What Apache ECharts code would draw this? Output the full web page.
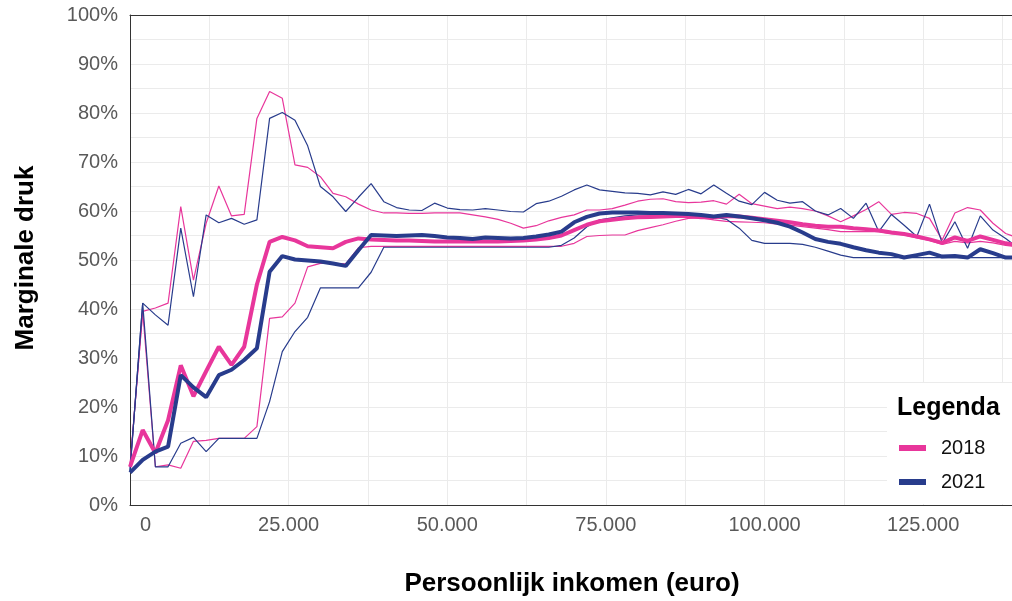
<!DOCTYPE html>
<html><head><meta charset="utf-8">
<script src="https://cdn.jsdelivr.net/npm/echarts@6/dist/echarts.min.js"></script>
<style>html,body{margin:0;padding:0;background:#fff}#c{width:1012px;height:601px}</style>
</head><body><div id="c"></div>
<script>
// Persoonlijk inkomen (euro)
const inkomen = [0,2000,4000,6000,8000,10000,12000,14000,16000,18000,20000,22000,24000,26000,28000,30000,32000,34000,36000,38000,40000,42000,44000,46000,48000,50000,52000,54000,56000,58000,60000,62000,64000,66000,68000,70000,72000,74000,76000,78000,80000,82000,84000,86000,88000,90000,92000,94000,96000,98000,100000,102000,104000,106000,108000,110000,112000,114000,116000,118000,120000,122000,124000,126000,128000,130000,132000,134000,136000,138000,140000];

// Marginale druk (%)
const mediaan2018 = [7.8,15.3,10.6,17.3,28.5,22.2,27.3,32.3,28.6,32.3,45.0,53.7,54.7,54.0,52.8,52.6,52.4,53.7,54.4,54.2,54.1,54.0,54.0,53.9,53.8,53.8,53.8,53.8,53.8,53.8,53.9,54.0,54.2,54.5,55.0,56.1,57.2,57.9,58.2,58.5,58.7,58.8,58.9,59.0,59.0,58.7,58.7,59.0,58.9,58.6,58.3,58.0,57.7,57.3,57.0,56.8,56.8,56.5,56.3,56.0,55.6,55.3,54.8,54.2,53.5,54.6,53.9,54.8,54.1,53.4,53.0];
const boven2018 = [8.0,39.5,40.2,41.2,60.9,45.9,57.5,65.1,59.0,59.3,78.9,84.4,83.0,69.4,68.9,67.0,63.6,62.9,61.4,60.2,59.6,59.6,59.5,59.5,59.6,59.6,59.6,59.2,58.8,58.3,57.5,56.5,57.0,58.0,58.7,59.2,60.2,60.2,60.5,61.2,62.0,62.4,62.5,61.9,61.7,61.8,62.1,61.4,63.4,61.5,61.0,60.5,60.8,60.5,60.0,59.0,57.8,59.0,60.3,61.9,59.3,59.7,59.5,58.5,54.1,59.6,60.7,60.2,57.5,55.4,54.5];
const onder2018 = [7.8,39.5,7.8,8.2,7.5,13.0,13.2,13.6,13.6,13.6,16.0,38.1,38.4,41.2,48.6,49.3,49.3,49.2,52.5,52.8,52.8,52.8,52.8,52.8,52.8,52.8,52.8,52.8,52.8,52.8,52.8,52.8,52.8,52.8,52.8,53.4,54.8,55.0,55.1,55.1,56.0,56.6,57.2,57.9,58.5,58.6,58.2,57.9,57.8,57.7,57.6,57.3,57.1,56.8,56.5,56.2,55.8,55.8,55.8,55.8,55.4,55.1,54.5,54.0,53.2,53.8,53.5,53.8,53.5,53.0,52.7];

const mediaan2021 = [6.6,9.2,10.9,11.9,26.5,24.0,22.0,26.5,27.6,29.6,32.0,47.6,50.8,50.1,49.9,49.7,49.3,48.8,52.0,55.1,55.0,54.9,55.0,55.1,54.9,54.6,54.5,54.3,54.6,54.5,54.4,54.5,54.8,55.2,55.8,57.7,58.8,59.5,59.7,59.7,59.7,59.6,59.6,59.5,59.4,59.2,58.9,59.2,58.9,58.5,58.1,57.6,56.8,55.6,54.3,53.7,53.3,52.6,52.0,51.5,51.2,50.5,51.0,51.5,50.7,50.8,50.5,52.2,51.4,50.5,50.5];
const boven2021 = [7.0,41.2,38.8,36.7,56.5,42.5,59.2,57.6,58.5,57.3,58.2,78.9,80.1,78.5,73.3,65.0,62.9,59.9,62.8,65.6,61.9,60.7,60.2,60.1,61.6,60.6,60.3,60.2,60.5,60.2,59.9,59.8,61.5,62.0,63.0,64.3,65.3,64.3,64.0,63.7,63.6,63.3,63.9,63.4,64.4,63.5,65.3,63.6,62.0,61.3,63.8,62.2,61.6,61.9,60.0,59.2,60.5,58.5,61.6,55.8,59.3,57.1,54.8,61.4,53.4,57.8,52.4,59.0,56.1,54.4,52.4];
const onder2021 = [7.0,41.2,7.8,7.8,12.6,13.8,10.9,13.6,13.6,13.6,13.6,21.1,31.3,35.4,38.3,44.3,44.3,44.3,44.3,47.5,52.6,52.6,52.6,52.6,52.6,52.6,52.6,52.6,52.6,52.6,52.6,52.6,52.6,52.6,53.0,54.5,56.8,58.2,58.6,59.0,59.2,59.2,59.2,59.2,59.1,59.0,58.8,58.3,56.5,54.0,53.4,53.4,53.4,53.2,52.6,51.8,51.0,50.5,50.5,50.5,50.5,50.5,50.5,50.5,50.5,50.5,50.5,50.5,50.5,50.5,50.3];

const xTickValues = [0,25000,50000,75000,100000,125000];
const xTickLabels = ['0','25.000','50.000','75.000','100.000','125.000'];
const yTickValues = [0,10,20,30,40,50,60,70,80,90,100];
const yTickLabels = ['0%','10%','20%','30%','40%','50%','60%','70%','80%','90%','100%'];

const PINK = '#E8369B';
const BLUE = '#283C8C';
const FONT = "'Liberation Sans', Arial, sans-serif";

function pts(arr){ return inkomen.map((x,i)=>[x, arr[i]]); }
function lineSeries(name, arr, color, width, z){
  return {
    name: name, type: 'line', data: pts(arr), showSymbol: false, symbol: 'none',
    lineStyle: {color: color, width: width}, itemStyle: {color: color},
    z: z, clip: true, animation: false, silent: true
  };
}

const chart = echarts.init(document.getElementById('c'), null, {renderer: 'canvas'});
chart.setOption({
  animation: false,
  backgroundColor: '#ffffff',
  textStyle: {fontFamily: FONT},
  grid: {left: 130, right: 0, top: 15, bottom: 96, containLabel: false, outerBoundsMode: 'none'},
  xAxis: [{
    type: 'value', min: 0, max: 139000, interval: 12500,
    axisLine: {show: true, lineStyle: {color: '#333333', width: 1}},
    axisTick: {show: false},
    splitLine: {show: true, lineStyle: {color: '#ebebeb', width: 1}},
    axisLabel: {
      fontSize: 20, color: '#595959', margin: 10, fontFamily: FONT,
      formatter: function(v){
        const i = xTickValues.indexOf(v);
        if (i < 0) return '';
        if (v === 0) return '{z|' + xTickLabels[i] + '}';
        return xTickLabels[i];
      },
      rich: {z: {fontSize: 20, color: '#595959', fontFamily: FONT, padding: [0,0,0,31]}}
    }
  },{
    type: 'value', position: 'top', min: 0, max: 139000,
    axisLine: {show: true, lineStyle: {color: '#333333', width: 1}},
    axisTick: {show: false}, axisLabel: {show: false}, splitLine: {show: false}
  }],
  yAxis: {
    type: 'value', min: 0, max: 100, interval: 5,
    axisLine: {show: true, lineStyle: {color: '#333333', width: 1}},
    axisTick: {show: false},
    splitLine: {show: true, lineStyle: {color: '#ebebeb', width: 1}},
    axisLabel: {
      fontSize: 20, color: '#595959', margin: 12, fontFamily: FONT,
      formatter: function(v){
        const i = yTickValues.indexOf(v);
        return i < 0 ? '' : yTickLabels[i];
      }
    }
  },
  legend: {
    data: ['2018','2021'], orient: 'vertical', left: 899, top: 438,
    padding: 0, itemGap: 14, itemWidth: 27, itemHeight: 6, icon: 'rect',
    textStyle: {fontSize: 20, color: '#111111', fontFamily: FONT, padding: [0,0,0,10], lineHeight: 20},
    z: 6, selectedMode: false
  },
  graphic: [
    {type: 'rect', left: 887, top: 383, shape: {width: 125, height: 121}, style: {fill: '#ffffff'}, z: 5},
    {type: 'text', x: 897, y: 408.5, z: 6, style: {text: 'Legenda', font: "bold 25px 'Liberation Sans', Arial, sans-serif", fill: '#000', textAlign: 'left', textVerticalAlign: 'middle'}},
    {type: 'text', x: 572, y: 584, z: 6, style: {text: 'Persoonlijk inkomen (euro)', font: "bold 26px 'Liberation Sans', Arial, sans-serif", fill: '#000', textAlign: 'center', textVerticalAlign: 'middle'}},
    {type: 'text', x: 26, y: 258, rotation: Math.PI/2, z: 6, style: {text: 'Marginale druk', font: "bold 26px 'Liberation Sans', Arial, sans-serif", fill: '#000', textAlign: 'center', textVerticalAlign: 'middle'}}
  ],
  series: [
    lineSeries('2018 boven', boven2018, PINK, 1.2, 2),
    lineSeries('2018 onder', onder2018, PINK, 1.2, 2),
    lineSeries('2021 boven', boven2021, BLUE, 1.2, 2),
    lineSeries('2021 onder', onder2021, BLUE, 1.2, 2),
    lineSeries('2018', mediaan2018, PINK, 4, 3),
    lineSeries('2021', mediaan2021, BLUE, 4, 4)
  ]
});
</script>
</body></html>
